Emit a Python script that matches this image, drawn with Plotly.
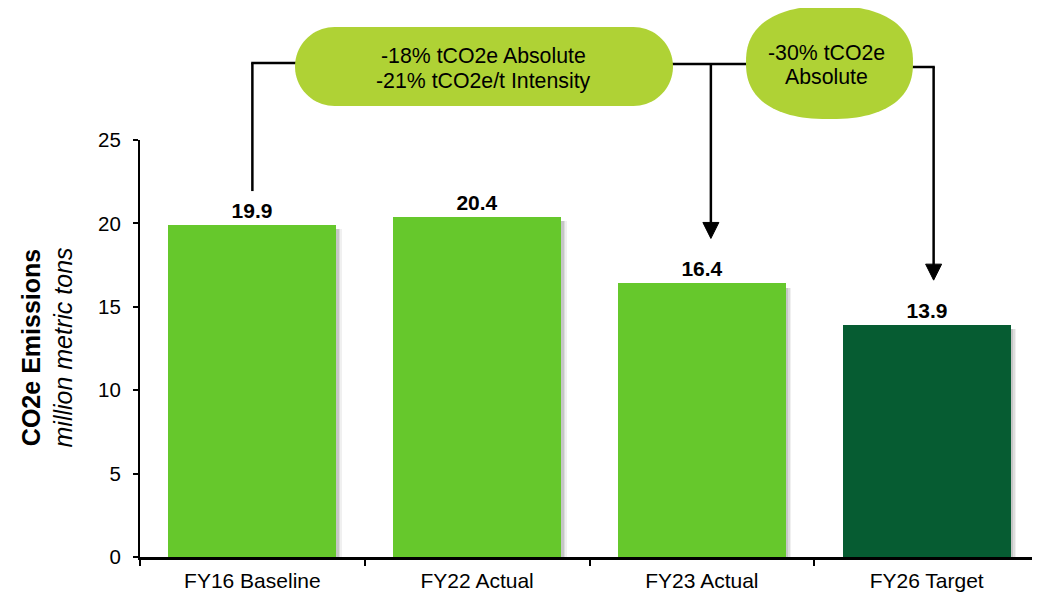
import numpy as np
import plotly.graph_objects as go

# ---------------- data ----------------
categories = ["FY16 Baseline", "FY22 Actual", "FY23 Actual", "FY26 Target"]
emissions = [19.9, 20.4, 16.4, 13.9]
bar_colors = ["#66C82C", "#66C82C", "#66C82C", "#065C32"]
y_ticks = [0, 5, 10, 15, 20, 25]
pill_lines = ["-18% tCO2e Absolute", "-21% tCO2e/t Intensity"]
oval_lines = ["-30% tCO2e", "Absolute"]
ytitle_main = "CO2e Emissions"
ytitle_sub = "million metric tons"

# ---------------- layout geometry ----------------
# the page body has an 8px margin, so the figure is drawn 8px in from the corner
OFF = 8
W, H = 1040 - OFF, 596 - OFF
ML, MR, MT, MB = 140 - OFF, 1, 140 - OFF, 39
PW, PH = W - ML - MR, H - MT - MB
X0, YB = 140, 557          # screen pixels of plot left edge and baseline
YMAX = 25
FONT = "Arial, Liberation Sans, sans-serif"
PILL = "#AFD235"


def px(x):
    return (x - X0) / PW


def py(y):
    return (YB - y) / PH


def ypix(v):
    return YB - v / YMAX * PH


def xcenter(i):
    return X0 + (i + 0.5) * PW / len(categories)


fig = go.Figure()

BW = 0.748
# soft shadows on the right side of the bars
for dx, op in [(5.5, 0.06), (4, 0.08), (2.5, 0.10)]:
    fig.add_trace(go.Bar(
        x=categories, y=[v - 0.25 for v in emissions],
        width=BW, offset=-BW / 2 + dx / (PW / len(categories)),
        marker=dict(color=f"rgba(0,0,0,{op})", line=dict(width=0)),
        hoverinfo="skip", showlegend=False,
    ))

fig.add_trace(go.Bar(
    x=categories, y=emissions, width=BW, offset=-BW / 2,
    marker=dict(color=bar_colors, line=dict(width=0)),
    texttemplate="<b>%{y:.1f}</b>", textposition="outside",
    textfont=dict(family=FONT, size=21, color="black"),
    cliponaxis=False, showlegend=False,
))

shapes = []
LW = 2.5


def seg(x0, y0, x1, y1):
    shapes.append(dict(type="line", xref="paper", yref="paper",
                       x0=px(x0), y0=py(y0), x1=px(x1), y1=py(y1),
                       line=dict(color="black", width=LW)))


def arrowhead(x, ytip, w=16, h=16):
    path = (f"M {px(x - w/2)},{py(ytip - h)} L {px(x + w/2)},{py(ytip - h)} "
            f"L {px(x)},{py(ytip)} Z")
    shapes.append(dict(type="path", xref="paper", yref="paper", path=path,
                       fillcolor="black", line=dict(color="black", width=1)))


def poly_path(pts):
    return "M " + " L ".join(f"{px(a):.5f},{py(b):.5f}" for a, b in pts) + " Z"


# bracket from FY16 baseline
x0c = xcenter(0)
seg(x0c, ypix(emissions[0]) - 34, x0c, 63)
seg(x0c - 1.2, 63, 300, 63)
# connector pill -> oval
seg(668, 64, 750, 64)
# arrow down to FY23
xa = xcenter(2) + 9
tipa = ypix(emissions[2]) - 45
seg(xa, 64, xa, tipa - 14)
arrowhead(xa, tipa)
# arrow from oval down to FY26
xb = xcenter(3) + 7
tipb = ypix(emissions[3]) - 45
seg(908, 67, xb + 1.2, 67)
seg(xb, 67, xb, tipb - 14)
arrowhead(xb, tipb)

# pill (stadium)
x_l, x_r, y_t, y_b = 295, 673, 27, 106
r = (y_b - y_t) / 2
cy = (y_t + y_b) / 2
pts = []
for t in np.linspace(np.pi / 2, 3 * np.pi / 2, 40):
    pts.append((x_l + r + r * np.cos(t), cy - r * np.sin(t)))
for t in np.linspace(-np.pi / 2, np.pi / 2, 40):
    pts.append((x_r - r + r * np.cos(t), cy - r * np.sin(t)))
shapes.append(dict(type="path", xref="paper", yref="paper", path=poly_path(pts),
                   fillcolor=PILL, line=dict(width=0)))

# oval (superellipse)
ocx, ocy, oa, ob, n = 829.5, 62.5, 83.5, 56.5, 2.4
pts = []
for t in np.linspace(0, 2 * np.pi, 120, endpoint=False):
    c, s = np.cos(t), np.sin(t)
    pts.append((ocx + oa * np.sign(c) * abs(c) ** (2 / n),
                ocy + ob * np.sign(s) * abs(s) ** (2 / n)))
shapes.append(dict(type="path", xref="paper", yref="paper", path=poly_path(pts),
                   fillcolor=PILL, line=dict(width=0)))

TXT = dict(family=FONT, size=21.3, color="black")
annotations = []
for txt, (xc, yc) in zip(pill_lines + oval_lines,
                         [(483.5, 56), (483.5, 81), (826.5, 53), (826.5, 77)]):
    annotations.append(dict(text=txt, x=px(xc), y=py(yc), xref="paper", yref="paper",
                            showarrow=False, xanchor="center", yanchor="middle",
                            font=TXT))
annotations.append(dict(
    text=f"<b>{ytitle_main}</b><br><i>{ytitle_sub}</i>",
    x=px(46.5), y=py(348), xref="paper", yref="paper", textangle=-90,
    showarrow=False, xanchor="center", yanchor="middle",
    font=dict(family=FONT, size=25, color="black")))

fig.update_layout(
    width=W, height=H,
    margin=dict(l=ML, r=MR, t=MT, b=MB, pad=0),
    paper_bgcolor="white", plot_bgcolor="white",
    barmode="overlay", bargap=0,
    shapes=shapes, annotations=annotations,
    font=dict(family=FONT, color="black"),
    showlegend=False,
)
fig.update_yaxes(
    range=[0, YMAX], tickvals=y_ticks, showgrid=False, zeroline=False,
    showline=True, linecolor="black", linewidth=2,
    ticks="outside", ticklen=5, tickwidth=2, tickcolor="black",
    ticklabelstandoff=8,
    tickfont=dict(family=FONT, size=20.5, color="black"),
)
fig.update_xaxes(
    showgrid=False, zeroline=False, showline=True, linecolor="black", linewidth=2.5,
    ticks="outside", tickson="boundaries", ticklen=6, tickwidth=2, tickcolor="black",
    ticklabelstandoff=3,
    tickfont=dict(family=FONT, size=21, color="black"),
)

fig.write_html("out.html")
